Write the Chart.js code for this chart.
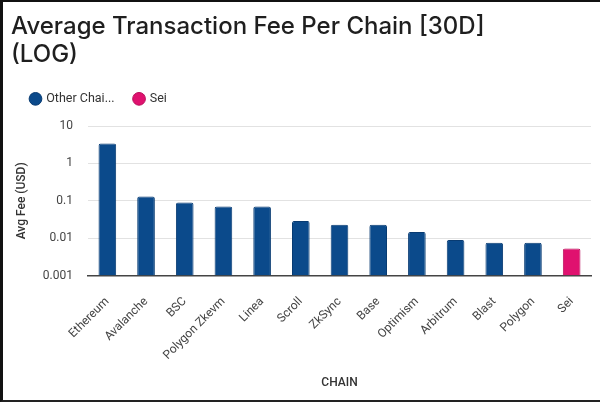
<!DOCTYPE html>
<html>
<head>
<meta charset="utf-8">
<script src="https://cdn.jsdelivr.net/npm/chart.js@4.4.1/dist/chart.umd.min.js"></script>
<style>
  body { margin: 0; background: #fff; }
  #wrap {
    width: 600px; height: 402px; box-sizing: border-box;
    border-left: 3px solid #111; border-top: 2px solid #111; border-bottom: 2px solid #222;
    position: relative;
  }
</style>
</head>
<body>
<div id="wrap"><canvas id="myChart"></canvas></div>
<script>
const chains = ['Ethereum', 'Avalanche', 'BSC', 'Polygon Zkevm', 'Linea', 'Scroll', 'ZkSync', 'Base', 'Optimism', 'Arbitrum', 'Blast', 'Polygon', 'Sei'];
const otherFees = [3.4, 0.13, 0.09, 0.07, 0.07, 0.029, 0.023, 0.023, 0.0147, 0.009, 0.0075, 0.0075, null];
const seiFees = [null, null, null, null, null, null, null, null, null, null, null, null, 0.0053];
const yTicks = [0.001, 0.01, 0.1, 1, 10];

const ctx = document.getElementById('myChart');

// extra room under the legend
const legendGap = {
  id: 'legendGap',
  afterInit(chart) {
    const fit = chart.legend.fit;
    chart.legend.fit = function () { fit.call(this); this.height += 11; };
  }
};

const chart = new Chart(ctx, {
  type: 'bar',
  data: {
    labels: chains,
    datasets: [{
      label: 'Other Chains',
      data: otherFees,
      backgroundColor: '#0b4a8b',
      borderColor: '#083b72',
      borderWidth: 1,
      borderRadius: 2,
      borderSkipped: 'bottom'
    }, {
      label: 'Sei',
      data: seiFees,
      backgroundColor: '#e0116f',
      borderColor: '#b80d5a',
      borderWidth: 1,
      borderRadius: 2,
      borderSkipped: 'bottom'
    }]
  },
  plugins: [legendGap],
  options: {
    responsive: true,
    maintainAspectRatio: false,
    animation: false,
    grouped: false,
    categoryPercentage: 0.8,
    barPercentage: 0.57,
    layout: { padding: { left: 8, right: 9, top: 0, bottom: 6 } },
    plugins: {
      title: {
        display: true,
        text: ['Average Transaction Fee Per Chain [30D]', '(LOG)'],
        align: 'start',
        color: '#1f1f1f',
        font: { family: 'Inter', size: 24, weight: '500', lineHeight: 1.2 },
        padding: { top: 10, bottom: 3 }
      },
      legend: {
        align: 'start',
        labels: {
          usePointStyle: true,
          pointStyle: 'circle',
          boxWidth: 9,
          boxHeight: 9,
          color: '#333',
          font: { family: 'Roboto', size: 12.5 },
          padding: 20,
          generateLabels: (c) => Chart.defaults.plugins.legend.labels.generateLabels(c).map(l => {
            if (l.text.length > 10) l.text = l.text.slice(0, 10) + '...';
            return l;
          })
        }
      }
    },
    scales: {
      x: {
        grid: { display: false },
        border: { display: true, color: '#444', width: 1.5 },
        afterFit: (scale) => { scale.paddingLeft = 0; },
        ticks: {
          maxRotation: 45, minRotation: 45,
          padding: 11,
          color: '#444',
          font: { family: 'Roboto', size: 12 }
        },
        title: {
          display: true, text: 'CHAIN', color: '#333',
          font: { family: 'Roboto', size: 12, weight: '500' },
          padding: { top: 2 }
        }
      },
      y: {
        type: 'logarithmic',
        min: 0.001,
        max: 10,
        afterBuildTicks: (scale) => { scale.ticks = yTicks.map(v => ({ value: v })); },
        afterFit: (scale) => { scale.width = 77; },
        grid: { color: '#e2e2e2', drawTicks: false },
        border: { display: false },
        ticks: {
          padding: 15,
          color: '#444',
          font: { family: 'Roboto', size: 12 },
          callback: (v) => String(v)
        },
        title: {
          display: true, text: 'Avg Fee (USD)', color: '#333',
          font: { family: 'Roboto', size: 12, weight: '500' },
          padding: { top: 4, bottom: 15 }
        }
      }
    }
  }
});
</script>
</body>
</html>
